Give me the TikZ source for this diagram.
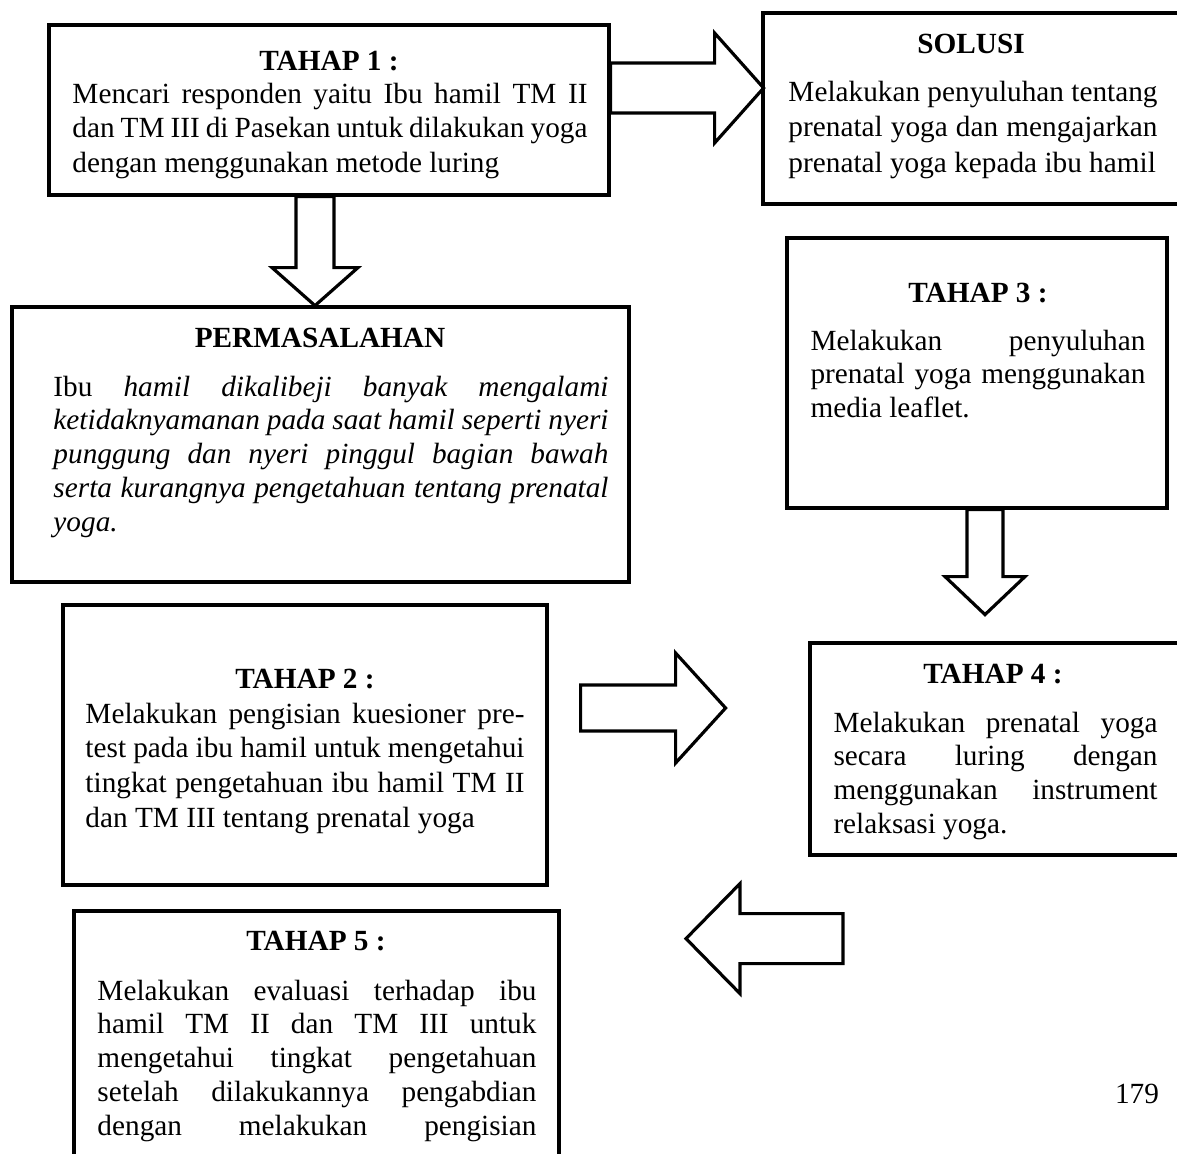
\documentclass[tikz,border=0pt]{standalone}
\usepackage{fontspec}
\setmainfont{Liberation Serif}
\usetikzlibrary{calc}

\newcommand{\px}{0.41pt}

\tikzset{
  every node/.style={font=\fontsize{12}{13.9}\selectfont},
  box/.style 2 args={draw, line width=1.3pt, line join=miter, inner sep=0pt, minimum width=#1*\px, minimum height=#2*\px},
  title/.style={font=\fontsize{12}{13.9}\selectfont\bfseries, anchor=base, inner sep=0pt},
  body/.style={text width=#1*\px, align=justify, anchor=base west, inner sep=0pt},
  loose/.style={font=\fontsize{12}{14.3}\selectfont},
  arrowline/.style={line width=1.3pt, line join=miter},
  pics/fatarrow/.style n args={4}{code={
    \draw[arrowline] (0,-#3) -- (#1,-#3) -- (#1,-#4) -- (#2,0) -- (#1,#4) -- (#1,#3) -- (0,#3) -- cycle;
  }}
}

\begin{document}
\begin{tikzpicture}[x=0.41pt, y=-0.41pt]
\useasboundingbox (0,0) rectangle (1177,1153);
\clip (0,0) rectangle (1177,1153);

%boxes
\node[box={560}{170}] (tahap1) at (329,110) {};
\node[box={437}{191}] (solusi) at (981.5,108.5) {};
\node[box={617}{275}] (masalah) at (320.5,444.5) {};
\node[box={380}{270}] (tahap3) at (977,373) {};
\node[box={484}{280}] (tahap2) at (305,745) {};
\node[box={390}{212}] (tahap4) at (1005,749) {};
\node[box={485}{269}] (tahap5) at (316.5,1045.5) {};

%titles
\node[title] (tahap1title) at (329,70) {TAHAP 1 :};
\node[title] (solusititle) at (971,53) {SOLUSI};
\node[title] (masalahtitle) at (320,347) {PERMASALAHAN};
\node[title] (tahap3title) at (978,302) {TAHAP 3 :};
\node[title] (tahap2title) at (305,688) {TAHAP 2 :};
\node[title] (tahap4title) at (993,683) {TAHAP 4 :};
\node[title] (tahap5title) at (316,950) {TAHAP 5 :};

%texts
\node[body=515, loose] (tahap1text) at (72,103) {Mencari responden yaitu Ibu hamil TM II\linebreak dan TM III di Pasekan untuk dilakukan yoga\linebreak dengan menggunakan metode luring};
\node[body=369, font=\fontsize{12}{14.6}\selectfont] (solusitext) at (788,101) {Melakukan penyuluhan tentang\linebreak prenatal yoga dan mengajarkan\linebreak prenatal yoga kepada ibu hamil};
\node[body=555] (masalahtext) at (53,396) {Ibu {\itshape hamil dikalibeji banyak mengalami\linebreak ketidaknyamanan pada saat hamil seperti nyeri\linebreak punggung dan nyeri pinggul bagian bawah\linebreak serta kurangnya pengetahuan tentang prenatal\linebreak yoga.}};
\node[body=335] (tahap3text) at (810,350) {Melakukan penyuluhan\linebreak prenatal yoga menggunakan\linebreak media leaflet.};
\node[body=439, loose] (tahap2text) at (85,723) {Melakukan pengisian kuesioner pre-\linebreak test pada ibu hamil untuk mengetahui\linebreak tingkat pengetahuan ibu hamil TM II\linebreak dan TM III tentang prenatal yoga};
\node[body=324] (tahap4text) at (833,732) {Melakukan prenatal yoga\linebreak secara luring dengan\linebreak menggunakan instrument\linebreak relaksasi yoga.};
\node[body=439] (tahap5text) at (97,1000) {Melakukan evaluasi terhadap ibu\linebreak hamil TM II dan TM III untuk\linebreak mengetahui tingkat pengetahuan\linebreak setelah dilakukannya pengabdian\linebreak dengan melakukan pengisian\linebreak\mbox{}};
\node[anchor=base, inner sep=0pt] (halaman) at (1137,1103) {179};

%arrow coords
\coordinate (a1) at ($(tahap1.east)+(0,-22)$);
\coordinate (a2) at ($(tahap1.south)+(-14,0)$);
\coordinate (a3) at ($(tahap3.south)+(8,0)$);
\coordinate (a4) at ($(tahap2.east)+(32,-37)$);
\coordinate (a5) at ($(tahap4.south)+(-162,82)$);

%arrows
\pic at (a1) {fatarrow={104}{153}{25}{55}};
\pic[rotate=-90] at (a2) {fatarrow={71}{109}{19}{43}};
\pic[rotate=-90] at (a3) {fatarrow={67}{105}{18}{40}};
\pic at (a4) {fatarrow={95}{145}{23}{55}};
\pic[rotate=180] at (a5) {fatarrow={103}{157}{25}{55}};

\end{tikzpicture}
\end{document}
